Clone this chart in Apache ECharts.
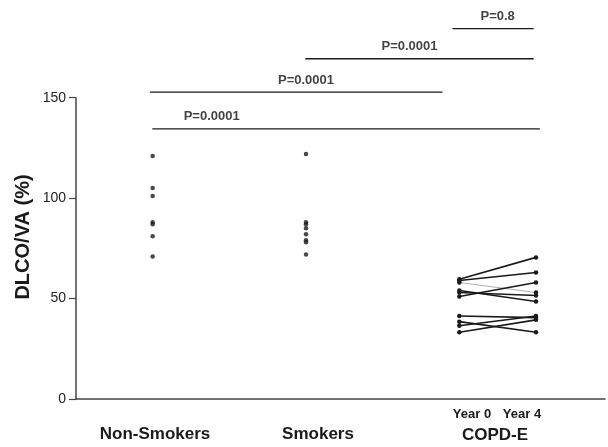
<!DOCTYPE html>
<html>
<head>
<meta charset="utf-8">
<script src="https://cdn.jsdelivr.net/npm/echarts@6/dist/echarts.min.js"></script>
<style>html,body{margin:0;padding:0;background:#fff}#c{width:608px;height:447px}</style>
</head>
<body>
<div id="c"></div>
<script>
// ---- data ----
var groupNames = ['Non-Smokers', 'Smokers', 'COPD-E'];
var yearLabels = ['Year 0', 'Year 4'];
var groupX = [1, 3];            // positions of the two scatter groups on the x scale
var copdX = [5, 6];             // Year 0 / Year 4 positions
var nonSmokers = [121, 105, 101, 88, 87, 81, 71];
var smokers = [122, 88, 87, 85, 82, 79, 78, 72];
var copdYear0 = [59.6, 59, 58, 54, 53, 51, 41.3, 38.5, 36.5, 33.2];
var copdYear4 = [70.5, 63, 53, 48.5, 51.5, 58, 40.5, 33.2, 41.3, 39.4];
var grayPairIndex = 2;
var yTicks = [0, 50, 100, 150];
// significance bars
var sigStart = [4.91, 2.99, 0.965, 0.995];
var sigEnd = [5.97, 5.97, 4.78, 6.05];
var sigLevel = [184.4, 169.4, 152.8, 134.5];
var sigLabelX = [5.5, 4.35, 3.0, 1.77];
var sigText = ['P=0.8', 'P=0.0001', 'P=0.0001', 'P=0.0001'];

var FONT = 'Liberation Sans, Arial, sans-serif';
var series = [];
series.push({
  type: 'scatter', symbolSize: 4.5, itemStyle: {color: '#1a1a1a'},
  data: nonSmokers.map(function (v) { return [groupX[0], v]; })
});
series.push({
  type: 'scatter', symbolSize: 4.5, itemStyle: {color: '#1a1a1a'},
  data: smokers.map(function (v) { return [groupX[1], v]; })
});
copdYear0.forEach(function (v0, i) {
  var gray = i === grayPairIndex;
  series.push({
    type: 'line', symbol: 'circle', symbolSize: 4.5, showSymbol: true,
    itemStyle: {color: '#1a1a1a'},
    lineStyle: {color: gray ? '#999' : '#1a1a1a', width: gray ? 0.8 : 1.6},
    data: [[copdX[0], v0], [copdX[1], copdYear4[i]]],
    z: gray ? 1 : 2
  });
});
sigStart.forEach(function (s, i) {
  series.push({
    type: 'line', showSymbol: false, clip: false, silent: true,
    lineStyle: {color: '#1a1a1a', width: 1.3},
    data: [[s, sigLevel[i]], [sigEnd[i], sigLevel[i]]]
  });
});
series.push({
  type: 'scatter', symbolSize: 0, clip: false, silent: true,
  data: sigLabelX.map(function (x, i) { return {value: [x, sigLevel[i]], name: sigText[i]}; }),
  label: {show: true, position: 'inside', offset: [0, -12], formatter: '{b}',
    color: '#111', textBorderWidth: 0, fontFamily: FONT, fontWeight: 'bold', fontSize: 13}
});

var chart = echarts.init(document.getElementById('c'), null, {renderer: 'canvas'});
chart.setOption({
  animation: false,
  backgroundColor: '#fff',
  grid: {left: 76, right: 3, top: 97.7, bottom: 48, containLabel: false},
  xAxis: {
    type: 'value', min: 0, max: 6.9,
    axisLine: {show: true, onZero: false, lineStyle: {color: '#444', width: 1.5}},
    axisTick: {show: false}, axisLabel: {show: false}, splitLine: {show: false}
  },
  yAxis: {
    type: 'value', min: yTicks[0], max: yTicks[yTicks.length - 1], interval: 50,
    axisLine: {show: true, lineStyle: {color: '#444', width: 1.5}},
    axisTick: {show: true, inside: false, length: 7, lineStyle: {color: '#444', width: 1.2}},
    axisLabel: {color: '#222', fontFamily: FONT, fontSize: 14, margin: 10},
    splitLine: {show: false}
  },
  graphic: [
    {type: 'text', x: 23.5, y: 237, rotation: Math.PI / 2,
      style: {text: 'DLCO/VA (%)', fill: '#1a1a1a', font: 'bold 20px ' + FONT, align: 'center', verticalAlign: 'middle'}},
    {type: 'text', x: 155, y: 434, style: {text: groupNames[0], fill: '#1a1a1a', font: 'bold 17px ' + FONT, align: 'center', verticalAlign: 'middle'}},
    {type: 'text', x: 318, y: 434, style: {text: groupNames[1], fill: '#1a1a1a', font: 'bold 17px ' + FONT, align: 'center', verticalAlign: 'middle'}},
    {type: 'text', x: 495, y: 435, style: {text: groupNames[2], fill: '#1a1a1a', font: 'bold 17px ' + FONT, align: 'center', verticalAlign: 'middle'}},
    {type: 'text', x: 472, y: 414, style: {text: yearLabels[0], fill: '#1a1a1a', font: 'bold 13px ' + FONT, align: 'center', verticalAlign: 'middle'}},
    {type: 'text', x: 522, y: 414, style: {text: yearLabels[1], fill: '#1a1a1a', font: 'bold 13px ' + FONT, align: 'center', verticalAlign: 'middle'}}
  ],
  series: series
});
</script>
</body>
</html>
